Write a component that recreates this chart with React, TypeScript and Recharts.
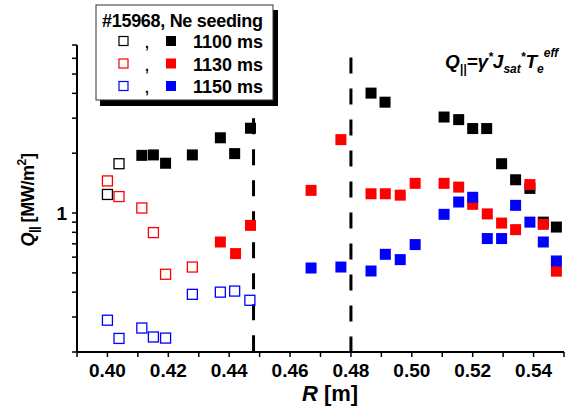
import { ScatterChart, Scatter, XAxis, YAxis, ReferenceLine } from 'recharts';

// R positions [m] and Q_par [MW/m^2]
const R_1100_OPEN = [0.4, 0.4038];
const Q_1100_OPEN = [1.24, 1.77];
const R_1100 = [0.4113, 0.4151, 0.4191, 0.4279, 0.4371, 0.4418, 0.447, 0.4866, 0.4912, 0.5106, 0.5154, 0.52, 0.5246, 0.5295, 0.5341, 0.5388, 0.5432, 0.5475];
const Q_1100 = [1.95, 1.96, 1.78, 1.96, 2.39, 1.99, 2.67, 4.01, 3.61, 3.04, 2.95, 2.66, 2.66, 1.77, 1.47, 1.33, 0.9, 0.85];

const R_1130_OPEN = [0.4, 0.4038, 0.4113, 0.4151, 0.4191, 0.4279];
const Q_1130_OPEN = [1.45, 1.21, 1.06, 0.797, 0.492, 0.535];
const R_1130 = [0.4371, 0.4421, 0.447, 0.4669, 0.4767, 0.4866, 0.4913, 0.4962, 0.5011, 0.5106, 0.5154, 0.52, 0.5248, 0.5295, 0.5341, 0.5388, 0.5432, 0.5475];
const Q_1130 = [0.715, 0.625, 0.867, 1.3, 2.34, 1.25, 1.25, 1.23, 1.41, 1.41, 1.35, 1.106, 0.99, 0.89, 0.825, 1.39, 0.877, 0.51];

const R_1150_OPEN = [0.4, 0.4038, 0.4113, 0.4151, 0.4191, 0.4279, 0.4371, 0.4418, 0.4468];
const Q_1150_OPEN = [0.289, 0.234, 0.264, 0.238, 0.235, 0.39, 0.4, 0.405, 0.364];
const R_1150 = [0.4669, 0.4767, 0.4866, 0.4913, 0.4962, 0.5011, 0.5106, 0.5154, 0.52, 0.5248, 0.5295, 0.5341, 0.5388, 0.5432, 0.5475];
const Q_1150 = [0.529, 0.535, 0.511, 0.62, 0.583, 0.694, 0.985, 1.136, 1.2, 0.744, 0.744, 1.093, 0.9, 0.715, 0.574];

const X_TICKS = [0.39, 0.4, 0.41, 0.42, 0.43, 0.44, 0.45, 0.46, 0.47, 0.48, 0.49, 0.5, 0.51, 0.52, 0.53, 0.54, 0.55];
const X_LABELS = ['0.40', '0.42', '0.44', '0.46', '0.48', '0.50', '0.52', '0.54'];
const Y_TICKS = [0.2, 0.3, 0.4, 0.5, 0.6, 0.7, 0.8, 0.9, 1, 2, 3, 4, 5, 6, 7];
const Y_LABELS = ['1'];

const LEGEND_ROWS = [
  { label: '1100 ms', color: '#000000' },
  { label: '1130 ms', color: '#ff0000' },
  { label: '1150 ms', color: '#0000ff' },
];

const FONT = '"Liberation Sans", Arial, sans-serif';

const toPoints = (rs: number[], qs: number[]) => rs.map((r, i) => ({ r, q: qs[i] }));

const square = (color: string, open: boolean) => (props: any) => {
  const { cx, cy } = props;
  if (cx == null || cy == null) return <g />;
  const s = open ? 10 : 11;
  return (
    <rect
      x={cx - s / 2}
      y={cy - s / 2}
      width={s}
      height={s}
      fill={open ? 'none' : color}
      stroke={color}
      strokeWidth={open ? 1.3 : 0}
    />
  );
};

const XTick = (props: any) => {
  const { x, y, payload } = props;
  const label = payload.value.toFixed(2);
  if (!X_LABELS.includes(label)) return <g />;
  return (
    <text x={x} y={y + 18} textAnchor="middle" fontFamily={FONT} fontWeight="bold" fontSize={19} fill="#000">
      {label}
    </text>
  );
};

const YTick = (props: any) => {
  const { x, y, payload } = props;
  const label = String(payload.value);
  if (!Y_LABELS.includes(label)) return <g />;
  return (
    <text x={x - 3} y={y + 7} textAnchor="end" fontFamily={FONT} fontWeight="bold" fontSize={19} fill="#000">
      {label}
    </text>
  );
};

export default function App() {
  return (
    <div style={{ position: 'absolute', left: 0, top: 0, width: 575, height: 409, background: '#fff' }}>
      <ScatterChart width={575} height={409} margin={{ top: 45, right: 11, bottom: 0, left: 17 }}>
        <XAxis
          type="number"
          dataKey="r"
          domain={[0.39, 0.55]}
          ticks={X_TICKS}
          interval={0}
          height={57}
          allowDataOverflow
          tick={<XTick />}
          tickSize={5}
          axisLine={{ stroke: '#000', strokeWidth: 2 }}
          tickLine={{ stroke: '#000', strokeWidth: 1.5 }}
        />
        <YAxis
          type="number"
          dataKey="q"
          scale="log"
          domain={[0.2, 7]}
          ticks={Y_TICKS}
          interval={0}
          width={60}
          allowDataOverflow
          tick={<YTick />}
          tickSize={5}
          axisLine={{ stroke: '#000', strokeWidth: 2 }}
          tickLine={{ stroke: '#000', strokeWidth: 1.5 }}
        />
        <ReferenceLine
          segment={[{ x: 0.448, y: 3 }, { x: 0.448, y: 0.2 }]}
          stroke="#000"
          strokeWidth={3}
          strokeDasharray="16 15"
          ifOverflow="visible"
        />
        <ReferenceLine
          segment={[{ x: 0.48, y: 6.05 }, { x: 0.48, y: 0.2 }]}
          stroke="#000"
          strokeWidth={3}
          strokeDasharray="16 15"
          ifOverflow="visible"
        />
        <Scatter data={toPoints(R_1100_OPEN, Q_1100_OPEN)} shape={square('#000000', true)} isAnimationActive={false} />
        <Scatter data={toPoints(R_1100, Q_1100)} shape={square('#000000', false)} isAnimationActive={false} />
        <Scatter data={toPoints(R_1130_OPEN, Q_1130_OPEN)} shape={square('#ff0000', true)} isAnimationActive={false} />
        <Scatter data={toPoints(R_1130, Q_1130)} shape={square('#ff0000', false)} isAnimationActive={false} />
        <Scatter data={toPoints(R_1150_OPEN, Q_1150_OPEN)} shape={square('#0000ff', true)} isAnimationActive={false} />
        <Scatter data={toPoints(R_1150, Q_1150)} shape={square('#0000ff', false)} isAnimationActive={false} />
      </ScatterChart>

      <svg width={575} height={409} style={{ position: 'absolute', left: 0, top: 0, pointerEvents: 'none' }}>
        {/* legend box with drop shadow */}
        <rect x={100} y={10} width={178} height={96} fill="#000" />
        <rect x={96} y={5} width={177} height={95} fill="#fff" stroke="#333" strokeWidth={1} />
        <text x={102} y={27} fontFamily={FONT} fontWeight="bold" fontSize={18} letterSpacing={-0.3} fill="#000">
          #15968, Ne seeding
        </text>
        {LEGEND_ROWS.map((row, i) => {
          const cy = 41 + i * 22.5;
          return (
            <g key={row.label}>
              <rect x={119} y={cy - 4.5} width={9} height={9} fill="none" stroke={row.color} strokeWidth={1.2} />
              <text x={147} y={cy + 7} textAnchor="middle" fontFamily={FONT} fontWeight="bold" fontSize={14} fill="#000">
                ,
              </text>
              <rect x={166} y={cy - 5} width={10} height={10} fill={row.color} />
              <text x={193} y={cy + 7} fontFamily={FONT} fontWeight="bold" fontSize={18} fill="#000">
                {row.label}
              </text>
            </g>
          );
        })}

        {/* formula */}
        <text x={445} y={68} fontFamily={FONT} fontWeight="bold" fontStyle="italic" fontSize={19} fill="#000">
          <tspan>Q</tspan>
          <tspan fontSize={12} dy={5}>||</tspan>
          <tspan dy={-5}>=γ</tspan>
          <tspan fontSize={12} dy={-7}>*</tspan>
          <tspan dy={7}>J</tspan>
          <tspan fontSize={12} dy={5}>sat</tspan>
          <tspan fontSize={12} dy={-12}>*</tspan>
          <tspan dy={7}>T</tspan>
          <tspan fontSize={12} dy={5}>e</tspan>
          <tspan fontSize={12} dy={-16}>eff</tspan>
        </text>

        {/* axis titles */}
        <text x={330} y={401} textAnchor="middle" fontFamily={FONT} fontWeight="bold" fontSize={22} fill="#000">
          <tspan fontStyle="italic">R</tspan>
          <tspan> [m]</tspan>
        </text>
        <text
          x={34}
          y={200}
          transform="rotate(-90, 34, 200)"
          textAnchor="middle"
          fontFamily={FONT}
          fontWeight="bold"
          fontSize={18}
          letterSpacing={-0.4}
          fill="#000"
        >
          <tspan fontStyle="italic">Q</tspan>
          <tspan fontStyle="italic" fontSize={12} dy={4}>||</tspan>
          <tspan dy={-4}> [MW/m</tspan>
          <tspan fontSize={12} dy={-8}>2</tspan>
          <tspan dy={8}>]</tspan>
        </text>
      </svg>
    </div>
  );
}
